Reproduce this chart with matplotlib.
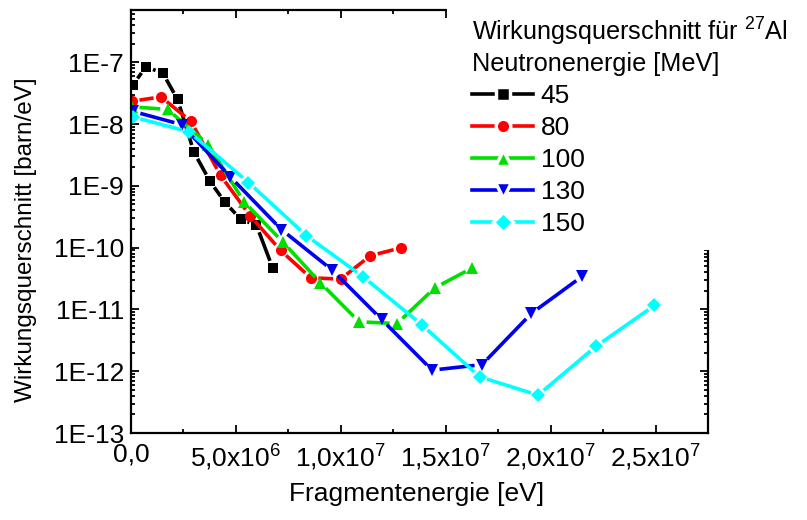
import numpy as np
import matplotlib.pyplot as plt
from matplotlib.collections import LineCollection
from matplotlib.lines import Line2D
from matplotlib.patches import Rectangle
from matplotlib.ticker import FuncFormatter, MultipleLocator, LogLocator, NullFormatter

plt.rcParams["font.family"] = ["Liberation Sans", "DejaVu Sans"]
plt.rcParams["mathtext.fontset"] = "custom"
plt.rcParams["mathtext.rm"] = "Liberation Sans"
plt.rcParams["mathtext.it"] = "Liberation Sans"

# fragment energy [eV] and cross section [barn/eV] per neutron energy
e45 = [0.1e6, 0.71e6, 1.51e6, 2.22e6, 3.0e6, 3.76e6, 4.48e6, 5.22e6, 5.98e6, 6.75e6]
s45 = [4.35e-8, 8.4e-8, 6.7e-8, 2.5e-8, 3.5e-9, 1.19e-9, 5.4e-10, 2.9e-10, 2.3e-10, 4.7e-11]

e80 = [0.05e6, 1.43e6, 2.86e6, 4.27e6, 5.67e6, 7.13e6, 8.57e6, 9.99e6, 11.41e6, 12.86e6]
s80 = [2.34e-8, 2.75e-8, 1.1e-8, 1.47e-9, 3.3e-10, 9.0e-11, 3.24e-11, 3.1e-11, 7.4e-11, 9.9e-11]

e100 = [0.05e6, 1.75e6, 3.68e6, 5.39e6, 7.25e6, 9.03e6, 10.87e6, 12.68e6, 14.48e6, 16.27e6]
s100 = [1.9e-8, 1.72e-8, 4.65e-9, 5.5e-10, 1.22e-10, 2.69e-11, 6.3e-12, 5.9e-12, 2.23e-11, 4.7e-11]

e130 = [0.1e6, 2.41e6, 4.73e6, 7.17e6, 9.6e6, 11.94e6, 14.35e6, 16.73e6, 19.08e6, 21.51e6]
s130 = [1.6e-8, 9.8e-9, 1.4e-9, 1.96e-10, 4.3e-11, 6.9e-12, 1.04e-12, 1.28e-12, 8.6e-12, 3.44e-11]

e150 = [0.1e6, 2.76e6, 5.6e6, 8.35e6, 11.06e6, 13.87e6, 16.62e6, 19.4e6, 22.17e6, 24.95e6]
s150 = [1.3e-8, 7.5e-9, 1.13e-9, 1.57e-10, 3.38e-11, 5.6e-12, 8.1e-13, 4.1e-13, 2.54e-12, 1.16e-11]

labels = ["45", "80", "100", "130", "150"]
colors = ["black", "#ff0000", "#00e000", "#0000f0", "#00ffff"]
markers = ["s", "o", "^", "v", "D"]
msizes = [7, 8, 9, 9, 7.5]

FS = 19


def xfmt(v, pos):
    if v <= 0:
        return "0,0"
    e = int(np.floor(np.log10(v) + 1e-9))
    m = v / 10 ** e
    return ("%.1f" % m).replace(".", ",") + "x10$^{%d}$" % e


def yfmt(v, pos):
    e = int(round(np.log10(v)))
    return "1E%d" % e


def gapped_line(ax, x, y, gap, color, lw):
    # line segments shortened at both ends so they stop short of the markers
    pts = ax.transData.transform(np.column_stack([x, y]))
    inv = ax.transData.inverted()
    segs = []
    for p, q in zip(pts[:-1], pts[1:]):
        d = q - p
        L = np.hypot(*d)
        if L <= 2 * gap:
            continue
        u = d / L
        segs.append(inv.transform(np.array([p + u * gap, q - u * gap])))
    ax.add_collection(LineCollection(segs, colors=color, linewidths=lw, capstyle="butt"))


fig = plt.figure(figsize=(8.07, 5.2), dpi=100)
ax = fig.add_axes([131 / 807, 1 - 433 / 520, 577 / 807, 423 / 520])
ax.set_yscale("log")
ax.set_xlim(0, 2.75e7)
ax.set_ylim(1e-13, 7e-7)

series = [(e45, s45), (e80, s80), (e100, s100), (e130, s130), (e150, s150)]
for (x, y), c, m, ms in zip(series, colors, markers, msizes):
    gapped_line(ax, x, y, 7.5, c, 2.6)
    ax.plot(x, y, linestyle="none", marker=m, color=c, markersize=ms, markeredgewidth=0)

ax.xaxis.set_major_locator(MultipleLocator(5e6))
ax.xaxis.set_minor_locator(MultipleLocator(2.5e6))
ax.xaxis.set_major_formatter(FuncFormatter(xfmt))
ax.yaxis.set_major_locator(LogLocator(base=10, numticks=20))
ax.yaxis.set_minor_locator(LogLocator(base=10, subs=np.arange(2, 10), numticks=20))
ax.yaxis.set_major_formatter(FuncFormatter(yfmt))
ax.yaxis.set_minor_formatter(NullFormatter())
ax.tick_params(which="both", direction="in", top=True, right=True, labelsize=FS, width=1.3)
ax.tick_params(which="major", length=6)
ax.tick_params(which="minor", length=3)
ax.tick_params(axis="x", pad=7)
ax.tick_params(axis="y", pad=5)
for sp in ax.spines.values():
    sp.set_linewidth(1.6)

ax.set_xlabel("Fragmentenergie [eV]", fontsize=FS)
ax.set_ylabel("Wirkungsquerschnitt [barn/eV]", fontsize=17.5)
ax.xaxis.set_label_coords(0.495, -0.115)
ax.yaxis.set_label_coords(-0.163, 0.456)

# white block behind the legend hides the upper right part of the frame
fig.add_artist(Rectangle((447 / 807, 1 - 250 / 520), 1, 1, transform=fig.transFigure,
                         facecolor="white", edgecolor="none", zorder=5))

handles = [Line2D([], [], color=c, lw=2.6, marker=m, markersize=ms + 2.5,
                  markerfacecolor=c, markeredgecolor="white", markeredgewidth=2.5)
           for c, m, ms in zip(colors, markers, msizes)]
leg = fig.legend(handles, labels, loc="upper left", bbox_to_anchor=(459 / 807, 1 - 3 / 520),
                 title="Wirkungsquerschnitt für $^{27}$Al\nNeutronenergie [MeV]",
                 title_fontsize=18.2, fontsize=FS, frameon=False, borderpad=0,
                 handlelength=2.3, handletextpad=0.3, labelspacing=0.3, alignment="left")
leg.set_zorder(6)

fig.savefig("out.png", dpi=100)
